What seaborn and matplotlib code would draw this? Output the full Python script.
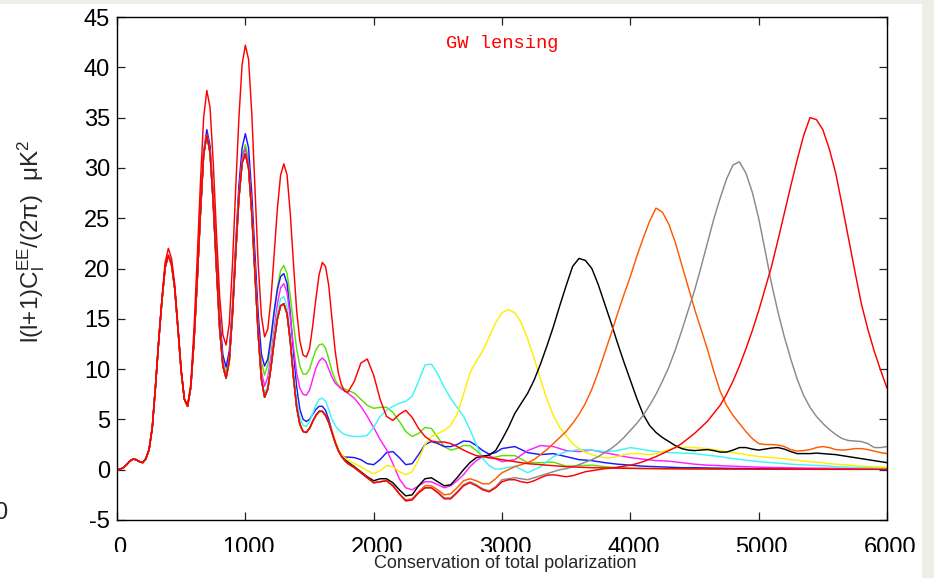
import matplotlib
matplotlib.use("Agg")
import matplotlib.pyplot as plt
import matplotlib.transforms as mtrans
import seaborn as sns
import pandas as pd
from matplotlib.patches import Rectangle

ell_low = list(range(0, 1801, 25))
ell_mid = list(range(1850, 3001, 50))
ell = ell_low + ell_mid + list(range(3100, 6001, 100))        # smooth curves
ell_fine = ell_low + ell_mid + list(range(3050, 6001, 50))    # peaked curves

# l = 0 .. 650 (shared by all curves except the upper red)
shared_0_650 = [0.0, 0.05, 0.2, 0.5, 0.85, 1.05, 1.0, 0.8, 0.7, 1.1,
                2.0, 4.2, 8.3, 12.8, 16.8, 20.1, 21.3, 20.4, 18.0, 14.0,
                9.8, 7.0, 6.3, 8.2, 12.8, 18.8, 25.5]
# l = 675 .. 1650 (base spectrum)
base_675_1650 = [31.3, 33.3, 31.5, 26.5, 20.0, 14.0, 10.3, 9.1, 10.8, 15.5,
                 21.5, 27.0, 30.5, 31.4, 30.0, 25.5, 19.5, 13.5, 9.0, 7.2,
                 8.0, 10.2, 12.8, 15.0, 16.3, 16.5, 15.5, 12.8, 9.2, 6.2,
                 4.5, 3.8, 3.7, 4.1, 4.8, 5.4, 5.8, 5.8, 5.4, 4.7]

red_top = [0.0, 0.05, 0.2, 0.5, 0.85, 1.05, 1.0, 0.8, 0.7, 1.1,
           2.0, 4.2, 8.3, 12.9, 17.0, 20.6, 22.0, 21.0, 18.4, 14.3,
           10.0, 7.0, 6.4, 8.5, 14.0, 21.0, 28.5, 35.0, 37.7, 36.0,
           30.5, 23.5, 17.2, 13.4, 12.4, 14.5, 20.5, 28.0, 35.0, 40.3,
           42.2, 40.8, 35.5, 28.0, 20.5, 15.3, 13.2, 14.0, 17.0, 21.5,
           26.0, 29.3, 30.4, 29.3, 25.5, 20.5, 15.8, 12.8, 11.4, 11.2,
           12.0, 14.3, 17.0, 19.4, 20.6, 20.2, 18.3, 15.0, 11.8, 9.6,
           8.4, 7.8, 7.7,
           8.8, 10.6, 11.0, 9.4, 7.0, 5.3, 4.9, 5.5, 5.9, 5.2,
           4.1, 3.3, 2.85, 2.75, 2.75, 2.6, 2.3, 1.95, 1.65, 1.4,
           1.3, 1.2, 1.1, 1.0,
           0.8, 0.6, 0.5, 0.4, 0.3, 0.25, 0.2, 0.18, 0.15, 0.13,
           0.12, 0.11, 0.1, 0.09, 0.08, 0.08, 0.07, 0.07, 0.06, 0.06,
           0.06, 0.05, 0.05, 0.05, 0.05, 0.05, 0.04, 0.04, 0.04, 0.04]

green = shared_0_650 + [
    31.4, 33.4, 31.7, 26.8, 20.5, 14.6, 10.8, 9.6, 11.2, 15.8,
    21.9, 27.6, 31.2, 32.3, 30.9, 26.4, 20.4, 14.6, 10.7, 9.4,
    10.4, 12.8, 15.6, 18.1, 19.8, 20.3, 19.5, 17.3, 14.5, 12.0,
    10.3, 9.5, 9.5, 10.0, 11.0, 11.9, 12.4, 12.5, 12.1, 11.0,
    9.8, 8.9, 8.4, 8.1, 8.0, 7.9,
    7.6, 7.0, 6.4, 6.1, 6.2, 6.2, 5.7, 4.8, 3.8, 3.3,
    3.6, 4.2, 4.1, 3.2, 2.3, 1.95, 2.1, 2.4, 2.4, 1.9,
    1.3, 1.15, 1.25, 1.4,
    1.4, 0.7, 0.7, 0.75, 0.35, 0.4, 0.45, 0.3, 0.2, 0.15,
    0.12, 0.1, 0.09, 0.08, 0.07, 0.06, 0.06, 0.05, 0.05, 0.05,
    0.04, 0.04, 0.04, 0.04, 0.03, 0.03, 0.03, 0.03, 0.03, 0.03]

blue = shared_0_650 + [
    31.6, 33.8, 32.2, 27.3, 21.0, 15.2, 11.4, 10.2, 11.8, 16.3,
    22.5, 28.3, 32.0, 33.4, 32.0, 27.5, 21.5, 15.5, 11.5, 10.3,
    11.0, 13.2, 15.8, 17.9, 19.2, 19.5, 18.5, 15.6, 11.6, 8.2,
    6.0, 5.0, 4.8, 5.0, 5.5, 6.0, 6.3, 6.3, 5.9, 5.0,
    3.9, 2.8, 1.9, 1.4, 1.25, 1.25,
    1.2, 1.0, 0.6, 0.5, 1.0, 1.7, 1.8, 1.2, 0.5, 0.6,
    1.5, 2.5, 2.8, 2.6, 2.3, 2.3, 2.5, 2.85, 2.8, 2.4,
    1.9, 1.55, 1.7, 2.1,
    2.3, 1.7, 1.5, 1.6, 1.3, 1.0, 0.9, 0.7, 0.55, 0.45,
    0.35, 0.3, 0.25, 0.2, 0.2, 0.17, 0.15, 0.13, 0.12, 0.1,
    0.09, 0.08, 0.07, 0.07, 0.06, 0.06, 0.05, 0.05, 0.05, 0.05]

magenta = shared_0_650 + [
    31.3, 33.3, 31.5, 26.6, 20.2, 14.2, 10.5, 9.3, 11.0, 15.6,
    21.7, 27.3, 30.9, 31.9, 30.4, 25.9, 19.8, 13.9, 9.8, 8.3,
    9.2, 11.3, 14.0, 16.5, 18.1, 18.5, 17.6, 15.2, 12.2, 9.6,
    8.1, 7.5, 7.4, 7.9, 9.0, 10.1, 10.8, 11.1, 10.8, 10.0,
    9.2, 8.6, 8.3, 8.0, 7.8, 7.6,
    7.1, 6.3, 5.3, 4.2, 3.0, 2.0, 0.6, -0.9, -1.8, -2.0,
    -1.6, -1.2, -1.2, -1.5, -1.8, -1.6, -1.1, -0.5, 0.3, 0.9,
    1.3, 1.4, 1.1, 0.8,
    1.0, 1.9, 2.4, 2.3, 1.9, 1.8, 1.95, 1.7, 1.45, 1.2,
    1.05, 0.9, 0.85, 0.7, 0.55, 0.45, 0.4, 0.35, 0.3, 0.25,
    0.22, 0.2, 0.18, 0.16, 0.15, 0.13, 0.12, 0.11, 0.1, 0.1]

cyan = shared_0_650 + [
    31.3, 33.3, 31.5, 26.5, 20.0, 14.0, 10.3, 9.1, 10.8, 15.5,
    21.5, 27.0, 30.6, 31.5, 30.1, 25.6, 19.6, 13.6, 9.3, 7.5,
    8.4, 10.7, 13.4, 15.7, 17.0, 17.2, 16.2, 13.5, 9.9, 6.9,
    5.1, 4.4, 4.3, 4.8, 5.6, 6.4, 7.0, 7.1, 6.8, 6.0,
    5.0, 4.4, 4.0, 3.7, 3.5, 3.4,
    3.3, 3.3, 3.4, 4.2, 5.3, 5.9, 6.3, 6.6, 6.8, 7.3,
    8.8, 10.4, 10.5, 9.5, 8.2, 7.1, 6.2, 5.3, 4.0, 2.5,
    1.1, 0.4, 0.05, 0.1,
    0.35, -0.3, 0.3, 1.3, 1.8, 2.0, 1.95, 1.8, 1.9, 2.2,
    2.0, 1.8, 1.7, 1.65, 1.6, 1.45, 1.3, 1.1, 0.95, 0.8,
    0.7, 0.6, 0.5, 0.45, 0.4, 0.3, 0.25, 0.2, 0.18, 0.15]

yellow = shared_0_650 + base_675_1650 + [
    3.9, 2.9, 2.1, 1.5, 1.2, 1.0,
    0.6, 0.3, -0.1, -0.4, -0.1, 0.4, 0.3, -0.2, -0.5, -0.2,
    1.0, 2.5, 3.3, 3.6, 3.9, 4.4, 5.5, 7.5, 9.6, 10.8,
    11.8, 13.2, 14.6, 15.6,
    15.9, 15.6, 14.6, 13.0, 11.1, 9.0, 7.0, 5.4, 4.2, 3.4,
    2.6, 2.1, 1.7, 1.5, 1.3, 1.2, 1.2, 1.3, 1.5, 1.6,
    1.6, 1.55, 1.5, 1.6, 1.8, 2.0, 2.2, 2.2, 2.2, 2.2,
    2.15, 2.1, 2.0, 1.9, 1.8, 1.7, 1.6, 1.5, 1.4, 1.3,
    1.25, 1.2, 1.15, 1.1, 1.0, 0.95, 0.85, 0.8, 0.75, 0.7,
    0.6, 0.55, 0.5, 0.45, 0.4, 0.35, 0.32, 0.3, 0.27, 0.25]

black = shared_0_650 + base_675_1650 + [
    3.7, 2.7, 1.9, 1.35, 1.0, 0.75,
    0.3, -0.2, -0.7, -1.1, -0.9, -0.9, -1.3, -2.0, -2.6, -2.5,
    -1.6, -0.9, -0.8, -1.2, -1.6, -1.5, -0.8, 0.0, 0.7, 1.2,
    1.35, 1.45, 1.9, 3.0,
    4.2, 5.6, 6.6, 7.6, 8.9, 10.5, 12.3, 14.2, 16.3, 18.3,
    20.2, 21.0, 20.8, 20.0, 18.4, 16.5, 14.6, 12.6, 10.7, 8.9,
    7.1, 5.5, 4.4, 3.7, 3.2, 2.8, 2.4, 2.1, 1.95, 1.9,
    1.95, 2.0, 1.9, 1.75, 1.75, 1.95, 2.2, 2.2, 2.05, 1.95,
    2.05, 2.15, 2.2, 2.05, 1.8, 1.6, 1.6, 1.6, 1.65, 1.6,
    1.55, 1.5, 1.4, 1.3, 1.2, 1.1, 1.0, 0.9, 0.8, 0.7]

orange = shared_0_650 + base_675_1650 + [
    3.7, 2.7, 1.9, 1.3, 0.9, 0.6,
    0.2, -0.3, -0.8, -1.3, -1.2, -1.1, -1.6, -2.4, -3.0, -2.9,
    -2.2, -1.6, -1.6, -2.0, -2.5, -2.4, -1.8, -1.1, -0.9, -1.1,
    -1.4, -1.4, -0.9, -0.3,
    0.0, 0.3, 0.5, 0.7, 1.0, 1.5, 2.0, 2.6, 3.2, 3.8,
    4.6, 5.5, 6.6, 8.0, 9.7, 11.6, 13.5, 15.5, 17.4, 19.2,
    21.2, 23.0, 24.7, 26.0, 25.6, 24.4, 22.6, 20.4, 18.2, 16.0,
    14.0, 12.0, 9.8, 7.8, 6.4, 5.4, 4.6, 3.8, 3.1, 2.6,
    2.5, 2.5, 2.45, 2.3, 2.0, 1.85, 1.9, 2.0, 2.2, 2.3,
    2.2, 2.0, 1.95, 2.0, 2.1, 2.1, 2.0, 1.85, 1.7, 1.6]

gray = shared_0_650 + base_675_1650 + [
    3.7, 2.7, 1.9, 1.3, 0.9, 0.6,
    0.2, -0.3, -0.8, -1.3, -1.2, -1.1, -1.6, -2.4, -3.1, -3.0,
    -2.3, -1.8, -1.8, -2.2, -2.8, -2.8, -2.2, -1.5, -1.2, -1.5,
    -1.9, -2.1, -1.7, -1.0,
    -0.9, -0.8, -0.9, -1.0, -0.8, -0.6, -0.4, -0.2, 0.0, 0.1,
    0.3, 0.5, 0.75, 1.0, 1.3, 1.7, 2.1, 2.6, 3.2, 3.9,
    4.6, 5.4, 6.4, 7.5, 8.8, 10.2, 11.9, 13.8, 15.8, 17.8,
    20.1, 22.5, 24.9, 27.0, 28.9, 30.3, 30.6, 29.5, 27.6, 25.0,
    21.8, 18.5, 15.7, 13.2, 11.0, 9.0, 7.4, 6.2, 5.3, 4.6,
    4.0, 3.5, 3.1, 2.9, 2.85, 2.8, 2.6, 2.2, 2.2, 2.3]

red_low = shared_0_650 + base_675_1650 + [
    3.7, 2.7, 1.9, 1.3, 0.9, 0.6,
    0.2, -0.3, -0.8, -1.3, -1.2, -1.1, -1.6, -2.4, -3.1, -3.0,
    -2.3, -1.8, -1.8, -2.3, -2.9, -2.9, -2.3, -1.6, -1.3, -1.6,
    -2.0, -2.2, -1.8, -1.2,
    -1.0, -1.0, -1.2, -1.3, -1.1, -0.8, -0.55, -0.5, -0.6, -0.7,
    -0.6, -0.4, -0.2, -0.1, 0.0, 0.1, 0.15, 0.25, 0.35, 0.45,
    0.6, 0.8, 1.05, 1.3, 1.6, 1.9, 2.2, 2.6, 3.1, 3.6,
    4.2, 4.8, 5.6, 6.4, 7.5, 8.8, 10.3, 12.0, 13.8, 15.8,
    18.0, 20.2, 22.8, 25.5, 28.2, 30.8, 33.2, 35.0, 34.8, 33.8,
    31.9, 29.5, 26.3, 23.0, 19.7, 16.5, 14.0, 11.8, 9.9, 8.1]

curves = {"green": green, "blue": blue, "magenta": magenta, "cyan": cyan,
          "yellow": yellow, "black": black, "orange": orange, "gray": gray,
          "red_top": red_top, "red_low": red_low}
fine = {"yellow", "black", "orange", "gray", "red_low"}
palette = {"green": "#5ce000", "blue": "#1a1aff", "magenta": "#ff20ff",
           "cyan": "#3ff5f5", "yellow": "#ffee00", "black": "#000000",
           "orange": "#ff5a00", "gray": "#8a8a8a", "red_top": "#ff0000",
           "red_low": "#ff0000"}

rows = []
for name, vals in curves.items():
    grid = ell_fine if name in fine else ell
    assert len(vals) == len(grid), (name, len(vals), len(grid))
    for l, v in zip(grid, vals):
        rows.append((name, l, v))
df = pd.DataFrame(rows, columns=["curve", "ell", "value"])

sns.set_style("ticks")
plt.rcParams["font.family"] = ["Liberation Sans", "DejaVu Sans"]
plt.rcParams["mathtext.fontset"] = "custom"
plt.rcParams["mathtext.rm"] = "Liberation Sans"
plt.rcParams["mathtext.it"] = "Liberation Sans:italic"
plt.rcParams["axes.unicode_minus"] = False

W, H = 934, 578
fig = plt.figure(figsize=(W / 100, H / 100), dpi=100, facecolor="white")
ax = fig.add_axes([117 / W, 1 - 520 / H, (887 - 117) / W, (520 - 17) / H])

sns.lineplot(data=df, x="ell", y="value", hue="curve", hue_order=list(curves),
             palette=palette, legend=False, sort=False, estimator=None,
             linewidth=1.05, ax=ax)

ax.set_xlim(0, 6000)
ax.set_ylim(-5, 45)
ax.set_xticks(range(0, 6001, 1000))
ax.set_yticks(range(-5, 46, 5))
ax.set_xlabel("")
ax.set_ylabel("")
ax.tick_params(direction="in", length=5.5, width=0.9, color="#222222",
               top=True, right=True, labelsize=17, labelcolor="black")
ax.tick_params(axis="x", pad=12.5)
ax.tick_params(axis="y", pad=5)
shift = mtrans.ScaledTranslation(3 / 100, 0, fig.dpi_scale_trans)
for lab in ax.get_xticklabels():
    lab.set_transform(lab.get_transform() + shift)
for s in ax.spines.values():
    s.set_linewidth(1.0)
    s.set_color("black")

fig.text(502 / W, 1 - 44 / H, "GW lensing", color="#ff0000",
         family="Liberation Mono", fontsize=13.5, ha="center", va="center")

fig.text(31 / W, 1 - 140 / H,
         r"l(l+1)C$_\mathregular{l}^\mathregular{EE}$/(2π)  μK$^\mathregular{2}$",
         rotation=90, ha="center", va="top", fontsize=17.5)

# page-like surroundings of the screenshot
fig.add_artist(Rectangle((0, 0), 922 / W, (578 - 552) / H,
                         transform=fig.transFigure, facecolor="white",
                         edgecolor="none", zorder=5))
fig.text(1 / W, 1 - 513 / H, "0", fontsize=17, ha="center", va="center",
         zorder=6)
fig.text(505 / W, 1 - 564 / H, "Conservation of total polarization",
         fontsize=13, ha="center", va="center", zorder=7)
fig.add_artist(Rectangle((0, 1 - 4 / H), 1, 4 / H, transform=fig.transFigure,
                         facecolor="#eeede7", edgecolor="none", zorder=8))
fig.add_artist(Rectangle((922 / W, 0), 12 / W, 1, transform=fig.transFigure,
                         facecolor="#eeede7", edgecolor="none", zorder=8))

fig.savefig("out.png", dpi=100, facecolor="white")
